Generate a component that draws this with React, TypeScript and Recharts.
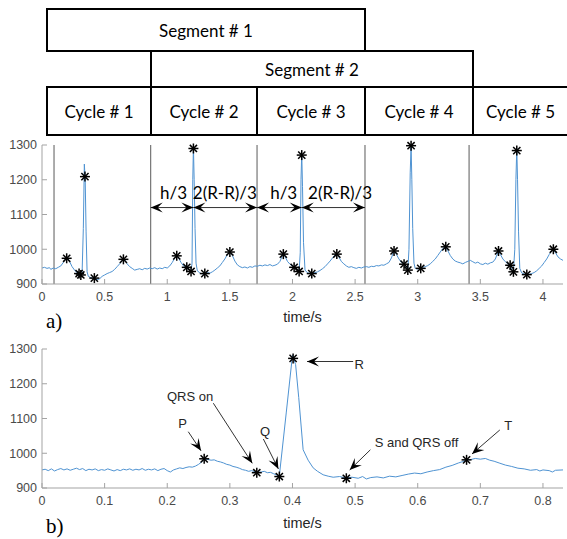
import React from 'react';
import { ComposedChart, Line, Scatter, XAxis, YAxis, ReferenceLine, ReferenceDot } from 'recharts';

// panel a) ECG trace: [time s, amplitude]
const traceA: [number, number][] = [
  [0, 946], [0.02, 948], [0.04, 945], [0.06, 947], [0.07, 942], [0.09, 946], [0.11, 944], [0.13, 948],
  [0.15, 952], [0.17, 962], [0.19, 975], [0.2, 977], [0.22, 965], [0.24, 950], [0.26, 940], [0.28, 932],
  [0.296, 930], [0.31, 927], [0.32, 930], [0.33, 1060], [0.338, 1245], [0.345, 1200], [0.352, 1050],
  [0.36, 935], [0.37, 922], [0.39, 918], [0.418, 916], [0.44, 912], [0.46, 915], [0.48, 922], [0.5, 926],
  [0.52, 930], [0.54, 933], [0.56, 936], [0.58, 942], [0.6, 950], [0.62, 958], [0.64, 968], [0.65, 973],
  [0.66, 970], [0.68, 958], [0.7, 950], [0.72, 945], [0.74, 940], [0.76, 942], [0.78, 944], [0.8, 941],
  [0.82, 945], [0.84, 943], [0.86, 946], [0.88, 944], [0.9, 947], [0.92, 943], [0.94, 946], [0.96, 944],
  [0.98, 948], [1.0, 946], [1.02, 952], [1.04, 962], [1.06, 975], [1.076, 982], [1.09, 975], [1.11, 962],
  [1.13, 952], [1.156, 948], [1.175, 942], [1.19, 936], [1.198, 960], [1.204, 1200], [1.209, 1295],
  [1.215, 1200], [1.222, 1060], [1.23, 960], [1.24, 938], [1.26, 932], [1.28, 929], [1.3, 930], [1.32, 933],
  [1.34, 931], [1.36, 935], [1.38, 940], [1.4, 946], [1.42, 952], [1.44, 962], [1.46, 972], [1.48, 985],
  [1.5, 993], [1.52, 982], [1.54, 966], [1.56, 955], [1.58, 950], [1.6, 947], [1.62, 949], [1.64, 946],
  [1.66, 950], [1.68, 948], [1.7, 952], [1.72, 951], [1.74, 954], [1.76, 952], [1.78, 955], [1.8, 953],
  [1.82, 956], [1.84, 952], [1.86, 954], [1.88, 957], [1.9, 965], [1.915, 978], [1.927, 987], [1.94, 980],
  [1.96, 965], [1.98, 957], [2.0, 951], [2.013, 948], [2.03, 944], [2.053, 936], [2.062, 990], [2.068, 1200],
  [2.074, 1275], [2.08, 1180], [2.088, 1020], [2.1, 940], [2.12, 932], [2.154, 930], [2.18, 933], [2.2, 935],
  [2.22, 939], [2.24, 944], [2.26, 950], [2.28, 958], [2.3, 966], [2.32, 975], [2.34, 984], [2.354, 987],
  [2.37, 978], [2.39, 965], [2.41, 958], [2.43, 952], [2.45, 948], [2.47, 950], [2.49, 947], [2.51, 945],
  [2.53, 948], [2.55, 946], [2.57, 949], [2.59, 950], [2.61, 948], [2.63, 951], [2.65, 950], [2.67, 953],
  [2.69, 952], [2.71, 955], [2.73, 954], [2.75, 958], [2.77, 962], [2.79, 975], [2.811, 996], [2.83, 985],
  [2.85, 972], [2.87, 962], [2.891, 957], [2.91, 948], [2.921, 940], [2.93, 1000], [2.94, 1220], [2.947, 1299],
  [2.953, 1200], [2.96, 1060], [2.97, 960], [2.98, 945], [3.0, 943], [3.024, 945], [3.04, 948], [3.06, 950],
  [3.08, 953], [3.1, 958], [3.12, 965], [3.14, 972], [3.16, 982], [3.18, 992], [3.2, 1002], [3.224, 1008],
  [3.24, 996], [3.26, 982], [3.28, 972], [3.3, 966], [3.32, 963], [3.34, 961], [3.36, 958], [3.38, 962],
  [3.4, 965], [3.42, 968], [3.44, 964], [3.46, 960], [3.48, 963], [3.5, 958], [3.52, 956], [3.54, 960],
  [3.56, 957], [3.58, 961], [3.6, 963], [3.62, 972], [3.645, 996], [3.66, 985], [3.68, 972], [3.7, 964],
  [3.72, 958], [3.738, 954], [3.75, 944], [3.764, 935], [3.775, 1000], [3.784, 1200], [3.791, 1290],
  [3.797, 1200], [3.805, 1050], [3.815, 945], [3.83, 932], [3.85, 929], [3.871, 927], [3.89, 928], [3.91, 930],
  [3.93, 933], [3.95, 938], [3.97, 945], [3.99, 952], [4.01, 962], [4.03, 972], [4.05, 985], [4.07, 996],
  [4.083, 1000], [4.1, 990], [4.12, 978], [4.14, 972], [4.16, 968],
];

// detected P, QRS on, Q, R, S, T for each of the five cycles
const starsA: [number, number][] = [
  [0.197, 974], [0.296, 930], [0.31, 926], [0.343, 1209], [0.418, 917], [0.65, 971],
  [1.076, 981], [1.156, 948], [1.19, 936], [1.209, 1290], [1.3, 930], [1.5, 992],
  [1.927, 986], [2.013, 948], [2.053, 936], [2.074, 1271], [2.154, 930], [2.354, 986],
  [2.811, 995], [2.891, 957], [2.921, 940], [2.947, 1298], [3.024, 945], [3.224, 1007],
  [3.645, 995], [3.738, 954], [3.764, 935], [3.791, 1284], [3.871, 927], [4.083, 1000],
];

const cycleBounds = [0.096, 0.868, 1.717, 2.579, 3.41];

// h/3 and 2(R-R)/3 spans
const spans: [number, number][] = [[0.868, 1.209], [1.209, 1.717], [1.717, 2.074], [2.074, 2.579]];
const spanLabels = ['h/3', '2(R-R)/3', 'h/3', '2(R-R)/3'];
const spanLabelT = [1.05, 1.46, 1.93, 2.38];

// panel b) one cycle
const traceB: [number, number][] = [
  [0, 952], [0.005, 954], [0.01, 950], [0.015, 955], [0.02, 949], [0.025, 953], [0.03, 956], [0.035, 952],
  [0.04, 955], [0.045, 951], [0.05, 954], [0.055, 957], [0.06, 953], [0.065, 956], [0.07, 950], [0.075, 954],
  [0.08, 952], [0.085, 955], [0.09, 950], [0.095, 953], [0.1, 951], [0.105, 955], [0.11, 952], [0.115, 949],
  [0.12, 953], [0.125, 950], [0.13, 954], [0.135, 952], [0.14, 955], [0.145, 951], [0.15, 954], [0.155, 952],
  [0.16, 956], [0.165, 951], [0.17, 954], [0.175, 952], [0.18, 955], [0.185, 950], [0.19, 954], [0.195, 956],
  [0.2, 950], [0.205, 946], [0.21, 952], [0.215, 955], [0.22, 958], [0.225, 956], [0.23, 959], [0.235, 961],
  [0.24, 960], [0.245, 963], [0.25, 968], [0.255, 975], [0.259, 984], [0.265, 982], [0.27, 980], [0.275, 981],
  [0.28, 977], [0.285, 975], [0.29, 972], [0.295, 968], [0.3, 966], [0.305, 962], [0.31, 960], [0.315, 957],
  [0.32, 953], [0.325, 951], [0.33, 948], [0.335, 950], [0.343, 945], [0.35, 946], [0.355, 948], [0.36, 944],
  [0.365, 945], [0.37, 941], [0.379, 935], [0.39, 1116], [0.4, 1282], [0.405, 1255], [0.41, 1160],
  [0.417, 1010], [0.425, 980], [0.433, 958], [0.44, 948], [0.449, 938], [0.457, 934], [0.465, 931],
  [0.475, 933], [0.486, 929], [0.495, 931], [0.505, 928], [0.512, 933], [0.518, 926], [0.525, 930],
  [0.535, 932], [0.545, 929], [0.555, 934], [0.565, 932], [0.575, 936], [0.585, 940], [0.595, 943],
  [0.605, 941], [0.615, 946], [0.625, 950], [0.635, 953], [0.645, 960], [0.655, 965], [0.665, 972],
  [0.672, 976], [0.678, 981], [0.685, 982], [0.692, 985], [0.7, 983], [0.708, 985], [0.715, 980],
  [0.722, 977], [0.73, 972], [0.74, 966], [0.75, 962], [0.76, 957], [0.77, 955], [0.78, 951], [0.79, 953],
  [0.795, 949], [0.8, 952], [0.81, 950], [0.815, 946], [0.82, 951], [0.832, 952],
];

const starsB: [number, number][] = [
  [0.259, 984], [0.343, 944], [0.379, 933], [0.401, 1273], [0.486, 928], [0.678, 981],
];

// callouts of panel b): label, label point, arrow start, arrow tip
const calloutText = ['P', 'QRS on', 'Q', 'R', 'S and QRS off', 'T'];
const calloutAt: [number, number][] = [[0.2247, 1087], [0.2364, 1163], [0.3561, 1062], [0.5064, 1256], [0.598, 1032], [0.7444, 1080]];
const calloutFrom: [number, number][] = [[0.2336, 1062], [0.2736, 1144], [0.3535, 1041], [0.4969, 1264], [0.5244, 1010], [0.7311, 1067]];
const calloutTo: [number, number][] = [[0.254, 1007], [0.3358, 971], [0.3775, 955], [0.4232, 1264], [0.4914, 952], [0.6867, 998]];

const ticksA = [0, 0.5, 1, 1.5, 2, 2.5, 3, 3.5, 4];
const ticksB = [0, 0.1, 0.2, 0.3, 0.4, 0.5, 0.6, 0.7, 0.8];
const ticksY = [900, 1000, 1100, 1200, 1300];

const segments = [
  { label: 'Segment # 1', x1: 47, y1: 9, x2: 365, y2: 51 },
  { label: 'Segment # 2', x1: 151, y1: 51, x2: 473, y2: 87 },
  { label: 'Cycle # 1', x1: 47, y1: 87, x2: 151, y2: 135 },
  { label: 'Cycle # 2', x1: 151, y1: 87, x2: 257, y2: 135 },
  { label: 'Cycle # 3', x1: 257, y1: 87, x2: 365, y2: 135 },
  { label: 'Cycle # 4', x1: 365, y1: 87, x2: 473, y2: 135 },
  { label: 'Cycle # 5', x1: 473, y1: 87, x2: 568, y2: 135 },
];

const toPts = (arr: [number, number][]) => arr.map(([t, v]) => ({ t, v }));

const BOX = '#a3a3a3';
const TICK_TXT = '#4a4a4a';
const LINE = '#4f93d2';
const ARIAL = '"Liberation Sans", Arial, sans-serif';
const CALIBRI = 'Lato, "Open Sans", sans-serif';

const Star = ({ cx, cy }: any) => {
  const r = 5;
  const d = r * 0.72;
  return (
    <g stroke="#000" strokeWidth={1.5}>
      <line x1={cx - r} y1={cy} x2={cx + r} y2={cy} />
      <line x1={cx} y1={cy - r} x2={cx} y2={cy + r} />
      <line x1={cx - d} y1={cy - d} x2={cx + d} y2={cy + d} />
      <line x1={cx - d} y1={cy + d} x2={cx + d} y2={cy - d} />
    </g>
  );
};

const head = (x: number, y: number, ang: number, key: string) => {
  const L = 12, W = 5, N = 7;
  const c = Math.cos(ang), s = Math.sin(ang);
  const bx = x - L * c, by = y - L * s;
  const nx = x - N * c, ny = y - N * s;
  const pts = `${x},${y} ${bx - W * s},${by + W * c} ${nx},${ny} ${bx + W * s},${by - W * c}`;
  return <polygon key={key} points={pts} fill="#000" />;
};

const Arrow = ({ x1, y1, x2, y2, both }: any) => {
  const ang = Math.atan2(y2 - y1, x2 - x1);
  return (
    <g>
      <line x1={x1} y1={y1} x2={x2} y2={y2} stroke="#333" strokeWidth={1} />
      {head(x2, y2, ang, 'e')}
      {both && head(x1, y1, ang + Math.PI, 's')}
    </g>
  );
};

const axisCommon = {
  axisLine: { stroke: BOX },
  tickLine: { stroke: BOX },
  tickSize: -5,
  interval: 0 as const,
};

export default function App() {
  const dataA = toPts(traceA);
  const dataB = toPts(traceB);
  const sA = toPts(starsA);
  const sB = toPts(starsB);

  const axes = (domain: [number, number], ticks: number[], labelOffset: number) => [
    <XAxis
      key="xb"
      type="number"
      dataKey="t"
      domain={domain}
      ticks={ticks}
      height={45}
      tickMargin={13}
      tick={{ fontSize: 12.5, fill: TICK_TXT, fontFamily: ARIAL }}
      label={{ value: 'time/s', position: 'insideBottom', offset: labelOffset, fill: '#262626', fontSize: 14.5, fontFamily: ARIAL }}
      {...axisCommon}
    />,
    <XAxis
      key="xt"
      xAxisId="top"
      orientation="top"
      type="number"
      domain={domain}
      ticks={ticks}
      height={0}
      tickFormatter={() => ''}
      {...axisCommon}
    />,
    <YAxis
      key="yl"
      type="number"
      domain={[900, 1300]}
      ticks={ticksY}
      width={42}
      tickMargin={10}
      tick={{ fontSize: 12.5, fill: TICK_TXT, fontFamily: ARIAL }}
      {...axisCommon}
    />,
    <YAxis
      key="yr"
      yAxisId="right"
      orientation="right"
      type="number"
      domain={[900, 1300]}
      ticks={ticksY}
      width={0}
      tickFormatter={() => ''}
      {...axisCommon}
    />,
  ];

  return (
    <div style={{ position: 'absolute', left: 0, top: 0, width: 567, height: 539, background: '#fff', overflow: 'hidden' }}>
      {segments.map((s) => (
        <div
          key={s.label}
          style={{
            position: 'absolute',
            left: s.x1 - 1,
            top: s.y1 - 1,
            width: s.x2 - s.x1 + 2,
            height: s.y2 - s.y1 + 2,
            border: '2px solid #000',
            boxSizing: 'border-box',
            display: 'flex',
            alignItems: 'center',
            justifyContent: 'center',
            fontFamily: CALIBRI,
            fontSize: 17,
            color: '#000',
          }}
        >
          {s.label}
        </div>
      ))}

      <div style={{ position: 'absolute', left: 0, top: 130 }}>
        <ComposedChart width={567} height={199} margin={{ top: 15, right: 4, bottom: 0, left: 0 }}>
          {axes([0, 4.16], ticksA, 7)}
          {cycleBounds.map((t) => (
            <ReferenceLine key={t} x={t} stroke="#5a5a5a" strokeWidth={1} />
          ))}
          <Line data={dataA} dataKey="v" stroke={LINE} strokeWidth={1} dot={false} isAnimationActive={false} />
          <Scatter data={sA} dataKey="v" shape={(p: any) => <Star cx={p.cx} cy={p.cy} />} isAnimationActive={false} />
          {spans.map(([a, b], i) => (
            <ReferenceLine
              key={'sp' + i}
              segment={[{ x: a, y: 1120 }, { x: b, y: 1120 }]}
              shape={(p: any) => <Arrow {...p} both />}
            />
          ))}
          {spanLabels.map((txt, i) => (
            <ReferenceDot
              key={'sl' + i}
              x={spanLabelT[i]}
              y={1162}
              shape={(p: any) => (
                <text x={p.cx} y={p.cy} textAnchor="middle" dominantBaseline="central" fontFamily={CALIBRI} fontSize={17} fill="#000">
                  {txt}
                </text>
              )}
            />
          ))}
        </ComposedChart>
      </div>

      <div style={{ position: 'absolute', left: 0, top: 334 }}>
        <ComposedChart width={567} height={199} margin={{ top: 15, right: 4, bottom: 0, left: 0 }}>
          {axes([0, 0.832], ticksB, 5)}
          <Line data={dataB} dataKey="v" stroke={LINE} strokeWidth={1} dot={false} isAnimationActive={false} />
          <Scatter data={sB} dataKey="v" shape={(p: any) => <Star cx={p.cx} cy={p.cy} />} isAnimationActive={false} />
          {calloutText.map((txt, i) => (
            <ReferenceLine
              key={'ca' + i}
              segment={[
                { x: calloutFrom[i][0], y: calloutFrom[i][1] },
                { x: calloutTo[i][0], y: calloutTo[i][1] },
              ]}
              shape={(p: any) => <Arrow {...p} />}
            />
          ))}
          {calloutText.map((txt, i) => (
            <ReferenceDot
              key={'ct' + i}
              x={calloutAt[i][0]}
              y={calloutAt[i][1]}
              shape={(p: any) => (
                <text x={p.cx} y={p.cy} textAnchor="middle" dominantBaseline="central" fontFamily={ARIAL} fontSize={13} fill="#262626">
                  {txt}
                </text>
              )}
            />
          ))}
        </ComposedChart>
      </div>

      <div style={{ position: 'absolute', left: 46, top: 309, fontFamily: '"Liberation Serif", serif', fontSize: 21 }}>a)</div>
      <div style={{ position: 'absolute', left: 46, top: 514, fontFamily: '"Liberation Serif", serif', fontSize: 21 }}>b)</div>
    </div>
  );
}
